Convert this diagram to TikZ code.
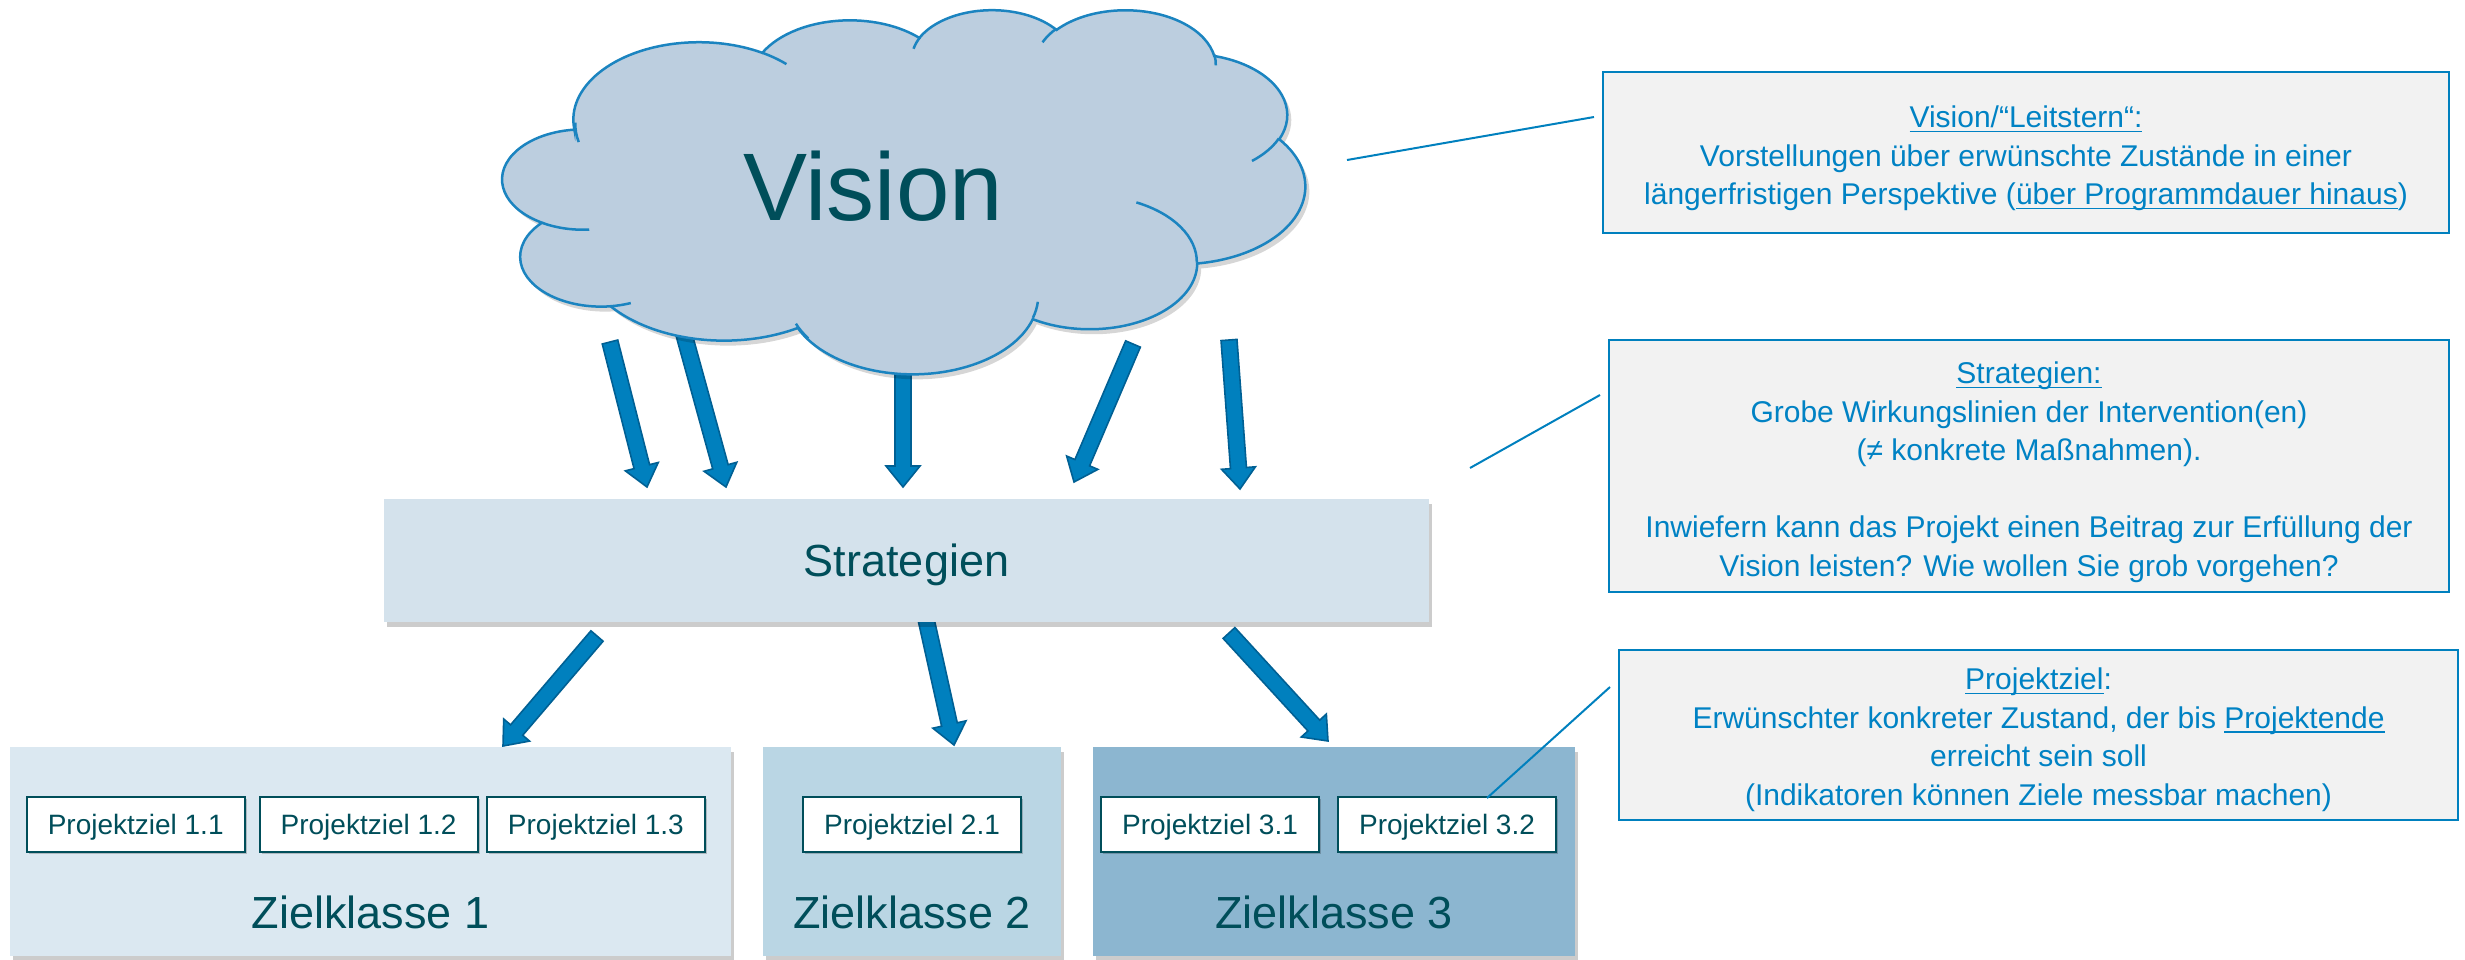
\documentclass[tikz,border=0pt]{standalone}
\usepackage{fontspec}
\setmainfont{Liberation Sans}
\usetikzlibrary{calc,shadows}
\newsavebox\ulinebox
\newcommand\uln[1]{\sbox\ulinebox{#1}\leavevmode\rlap{\rule[-4.5pt]{\wd\ulinebox}{1.8pt}}\usebox\ulinebox}
\definecolor{tealtxt}{RGB}{0,78,90}
\definecolor{cloudfill}{RGB}{188,206,223}
\definecolor{cloudline}{RGB}{27,132,192}
\definecolor{stratfill}{RGB}{212,226,236}
\definecolor{zkone}{RGB}{219,232,241}
\definecolor{zktwo}{RGB}{186,214,228}
\definecolor{zkthree}{RGB}{140,182,208}
\definecolor{arrfill}{RGB}{0,128,190}
\definecolor{arrline}{RGB}{0,96,148}
\definecolor{calltxt}{RGB}{0,130,196}
\definecolor{callfill}{RGB}{242,242,242}
\definecolor{callline}{RGB}{0,128,190}
\tikzset{
  blockarrow/.style={fill=arrfill, draw=arrline, line width=1.6pt, line join=miter},
  softshadow/.style={drop shadow={shadow xshift=3pt, shadow yshift=-5pt, opacity=0.2, fill=black}},
  stratbox/.style={fill=stratfill, minimum width=1045pt, minimum height=123pt, inner sep=0pt,
    font=\fontsize{45}{54}\selectfont, text=tealtxt, text height=32pt, text depth=0pt, softshadow},
  zkbox/.style={minimum height=209pt, inner sep=0pt, softshadow},
  zklabel/.style={font=\fontsize{45}{54}\selectfont, text=tealtxt, anchor=base, inner sep=0pt},
  pzbox/.style={draw=tealtxt, line width=2pt, fill=white, minimum width=218pt, minimum height=55pt,
    inner sep=0pt, font=\fontsize{28}{34}\selectfont, text=tealtxt, text height=20pt, text depth=0pt,
    drop shadow={shadow xshift=2pt, shadow yshift=-2pt, opacity=0.2, fill=black}},
  callbox/.style={fill=callfill, draw=callline, line width=2pt, inner sep=0pt},
  calltext/.style={font=\fontsize{30}{38.5}\selectfont, text=calltxt, align=center, anchor=north, inner sep=0pt},
  leader/.style={draw=callline, line width=2pt},
  cloudstroke/.style={draw=cloudline, line width=2.5pt}
}
\newcommand\blockarrow[2]{%
  \coordinate (tmpH) at ($(#2)!21pt!(#1)$);
  \filldraw[blockarrow] ($(#1)!8pt!90:(#2)$) -- ($(tmpH)!8pt!90:(#2)$) -- ($(tmpH)!17pt!90:(#2)$)
    -- (#2) -- ($(tmpH)!17pt!-90:(#2)$) -- ($(tmpH)!8pt!-90:(#2)$) -- ($(#1)!8pt!-90:(#2)$) -- cycle;}
\def\cloudoutline{(39.00,143.70)
 arc[start angle=-187.746,end angle=-59.637,x radius=67.53,y radius=91.90]
 arc[start angle=-152.018,end angle=-45.456,x radius=53.33,y radius=72.67]
 arc[start angle=-153.49,end angle=-37.327,x radius=43.65,y radius=59.45]
 arc[start angle=-139.718,end angle=-10.211,x radius=48.57,y radius=65.95]
 arc[start angle=-74.769,end angle=23.211,x radius=53.33,y radius=72.73]
 arc[start angle=-37.526,end angle=81.863,x radius=67.75,y radius=92.20]
 arc[start angle=0.4596,end angle=121.974,x radius=57.85,y radius=78.67]
 arc[start angle=16.849,end angle=156.243,x radius=67.52,y radius=92.15]
 arc[start angle=59.026,end angle=142.17,x radius=77.20,y radius=105.43]
 arc[start angle=83.307,end angle=223.098,x radius=43.60,y radius=59.18]
 arc[start angle=120.35,end angle=264.112,x radius=43.45,y radius=59.45]
 -- cycle}
\begin{document}
\begin{tikzpicture}[x=1pt,y=-1pt]
\useasboundingbox (0,0) rectangle (2465,959);

% arrows from the vision to the strategies
\coordinate (v1s) at (610,342); \coordinate (v1e) at (647,487);
\coordinate (v2s) at (680,320); \coordinate (v2e) at (726,487);
\coordinate (v3s) at (903,330); \coordinate (v3e) at (903,487);
\coordinate (v4s) at (1133,344); \coordinate (v4e) at (1074,482);
\coordinate (v5s) at (1229,340); \coordinate (v5e) at (1240,489);
\blockarrow{v1s}{v1e}
\blockarrow{v2s}{v2e}
\blockarrow{v3s}{v3e}
\blockarrow{v4s}{v4e}
\blockarrow{v5s}{v5e}

% cloud shadow
\begin{scope}[shift={(506,14)}, x=1pt, y=1pt, xscale=1.8588, yscale=-0.842593]
  \fill[black, opacity=0.16] \cloudoutline;
\end{scope}
% cloud
\begin{scope}[shift={(502,9)}, x=1pt, y=1pt, xscale=1.8588, yscale=-0.842593]
  \filldraw[fill=cloudfill, cloudstroke] \cloudoutline;
  \draw[cloudstroke]
   (46.93,261.77) arc[start angle=85.542,end angle=120.35,x radius=43.45,y radius=59.45]
   (69.28,348.99) arc[start angle=68.249,end angle=83.307,x radius=43.60,y radius=59.18]
   (164.78,390.90) arc[start angle=146.228,end angle=158.474,x radius=67.52,y radius=92.15]
   (288.27,347.51) arc[start angle=4.738,end angle=16.841,x radius=67.52,y radius=92.15]
   (341.29,229.54) arc[start angle=-64.031,end angle=0.4596,x radius=57.85,y radius=78.67]
   (417.98,153.54) arc[start angle=23.211,end angle=49.664,x radius=53.33,y radius=72.73]
   (383.24,54.26) arc[start angle=-10.211,end angle=0.8212,x radius=48.57,y radius=65.95]
   (290.78,39.52) arc[start angle=-156.286,end angle=-139.718,x radius=48.57,y radius=65.95]
   (221.41,47.20) arc[start angle=-167.726,end angle=-153.49,x radius=43.65,y radius=59.45]
   (140.00,51.92) arc[start angle=-59.637,end angle=-45.735,x radius=67.53,y radius=91.90]
   (41.27,157.89) arc[start angle=166.597,end angle=181.068,x radius=67.53,y radius=91.90];
\end{scope}
\node[anchor=base, inner sep=0pt, font=\fontsize{96}{110}\selectfont, text=tealtxt] (vision) at (873,220) {Vision};

% target classes
\node[zkbox, fill=zkone, minimum width=721pt] (zk1) at (370.5,851.5) {};
\node[zkbox, fill=zktwo, minimum width=298pt] (zk2) at (912,851.5) {};
\node[zkbox, fill=zkthree, minimum width=482pt] (zk3) at (1334,851.5) {};

% arrows from the strategies to the target classes
\coordinate (s1s) at (597,636); \coordinate (s1e) at (503,746);
\coordinate (s2s) at (924,610); \coordinate (s2e) at (954,745);
\coordinate (s3s) at (1229,633); \coordinate (s3e) at (1328,741);
\blockarrow{s1s}{s1e}
\blockarrow{s2s}{s2e}
\blockarrow{s3s}{s3e}

\node[stratbox] (strat) at (906.5,560.5) {Strategien};

\node[pzbox] (pz11) at (135.7,824.5) {Projektziel 1.1};
\node[pzbox] (pz12) at (368.6,824.5) {Projektziel 1.2};
\node[pzbox] (pz13) at (595.9,824.5) {Projektziel 1.3};
\node[pzbox] (pz21) at (912,824.5) {Projektziel 2.1};
\node[pzbox] (pz31) at (1210,824.5) {Projektziel 3.1};
\node[pzbox] (pz32) at (1447,824.5) {Projektziel 3.2};

\node[zklabel] (zk1l) at (370.5,928) {Zielklasse 1};
\node[zklabel] (zk2l) at (912,928) {Zielklasse 2};
\node[zklabel] (zk3l) at (1334,928) {Zielklasse 3};

% callouts
\node[callbox, minimum width=846pt, minimum height=161pt] (c1) at (2026,152.5) {};
\node[calltext] (c1t) at (2026,106) {\uln{Vision/“Leitstern“:}\\
Vorstellungen über erwünschte Zustände in einer\\
längerfristigen Perspektive (\uln{über Programmdauer hinaus})};

\node[callbox, minimum width=840pt, minimum height=252pt] (c2) at (2029,466) {};
\node[calltext] (c2t) at (2029,362) {\uln{Strategien:}\\
Grobe Wirkungslinien der Intervention(en)\\
(≠ konkrete Maßnahmen).\\[38.5pt]
Inwiefern kann das Projekt einen Beitrag zur Erfüllung der\\
Vision leisten? Wie wollen Sie grob vorgehen?};

\node[callbox, minimum width=839pt, minimum height=170pt] (c3) at (2038.5,735) {};
\node[calltext] (c3t) at (2038.5,668) {\uln{Projektziel}:\\
Erwünschter konkreter Zustand, der bis \uln{Projektende}\\
erreicht sein soll\\
(Indikatoren können Ziele messbar machen)};

% leader lines
\coordinate (l1a) at (1347,160); \coordinate (l1b) at (1594,117);
\coordinate (l2a) at (1470,468); \coordinate (l2b) at (1600,395);
\coordinate (l3a) at (1487,798); \coordinate (l3b) at (1610,687);
\draw[leader] (l1a) -- (l1b);
\draw[leader] (l2a) -- (l2b);
\draw[leader] (l3a) -- (l3b);
\end{tikzpicture}
\end{document}
